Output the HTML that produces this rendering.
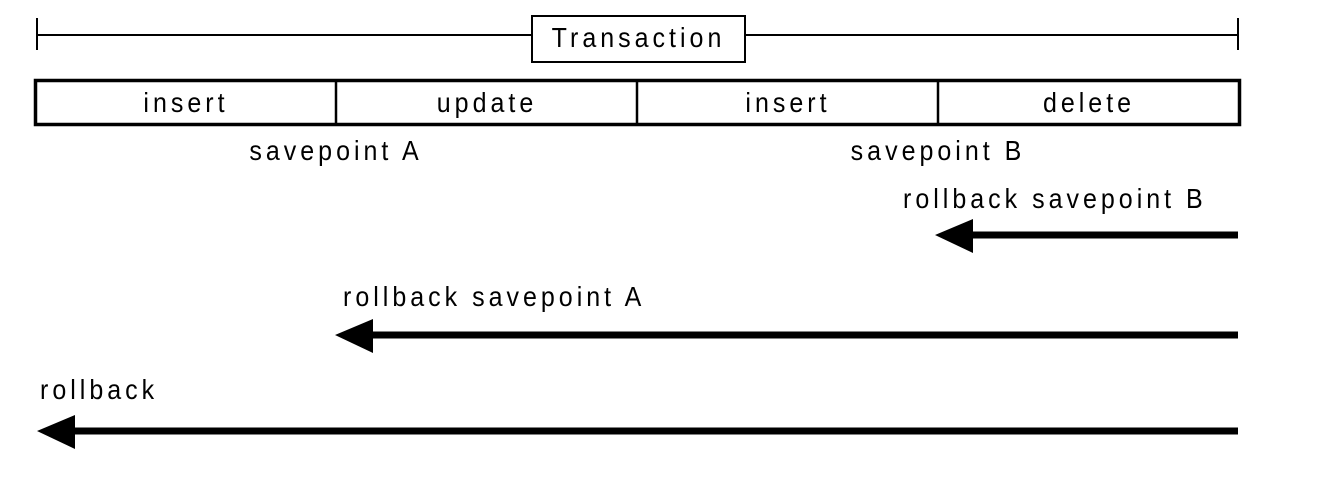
<!DOCTYPE html>
<html><head><style>
body{margin:0;background:#fff;width:1335px;height:484px;overflow:hidden;position:relative;font-family:"Liberation Sans",sans-serif;}
.t{position:absolute;font-size:25px;letter-spacing:4px;color:#000;white-space:nowrap;line-height:1;transform:scaleY(1.1);}
</style></head><body>
<svg width="1335" height="484" style="position:absolute;left:0;top:0">
<line x1="37" y1="35" x2="1238" y2="35" stroke="#000" stroke-width="2"/>
<line x1="37" y1="18" x2="37" y2="50" stroke="#000" stroke-width="2"/>
<line x1="1238" y1="18" x2="1238" y2="50" stroke="#000" stroke-width="2"/>
<rect x="532" y="16" width="213" height="46" fill="#fff" stroke="#000" stroke-width="2"/>
<rect x="35.5" y="80.5" width="1204" height="44" fill="#fff" stroke="#000" stroke-width="3.5"/>
<line x1="336" y1="80" x2="336" y2="125" stroke="#000" stroke-width="2.5"/>
<line x1="637" y1="80" x2="637" y2="125" stroke="#000" stroke-width="2.5"/>
<line x1="938" y1="80" x2="938" y2="125" stroke="#000" stroke-width="2.5"/>
<line x1="965" y1="235" x2="1238" y2="235" stroke="#000" stroke-width="7"/>
<polygon points="935,235 973,219 973,253" fill="#000"/>
<line x1="365" y1="335" x2="1238" y2="335" stroke="#000" stroke-width="7"/>
<polygon points="335,335 373,319 373,353" fill="#000"/>
<line x1="67" y1="431" x2="1238" y2="431" stroke="#000" stroke-width="7"/>
<polygon points="37,431 75,415 75,449" fill="#000"/>
</svg>
<div class="t" style="left:532px;width:213px;text-align:center;top:26px">Transaction</div>
<div class="t" style="left:36px;width:300px;text-align:center;top:91px">insert</div>
<div class="t" style="left:337px;width:300px;text-align:center;top:91px">update</div>
<div class="t" style="left:638px;width:300px;text-align:center;top:91px">insert</div>
<div class="t" style="left:939px;width:300px;text-align:center;top:91px">delete</div>
<div class="t" style="left:226px;width:220px;text-align:center;top:139px">savepoint A</div>
<div class="t" style="left:828px;width:220px;text-align:center;top:139px">savepoint B</div>
<div class="t" style="left:903px;top:187px">rollback savepoint B</div>
<div class="t" style="left:343px;top:285px">rollback savepoint A</div>
<div class="t" style="left:40px;top:378px">rollback</div>
</body></html>
